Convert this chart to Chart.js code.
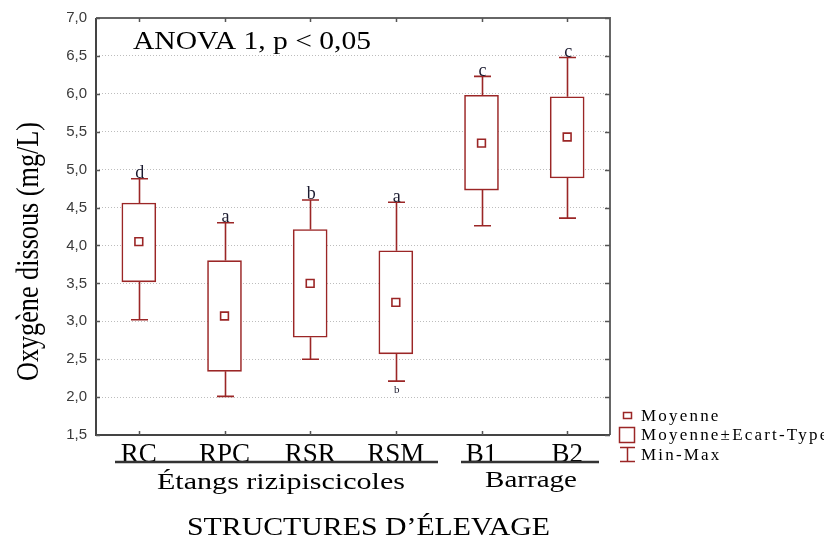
<!DOCTYPE html>
<html><head><meta charset="utf-8">
<script src="https://cdn.jsdelivr.net/npm/chart.js@4.4.1/dist/chart.umd.min.js"></script>
<style>html,body{margin:0;padding:0;background:#fff;}#wrap{width:824px;height:541px;}</style>
</head><body><div id="wrap"><canvas id="c" width="824" height="541"></canvas></div>
<script>
const categories = ['RC', 'RPC', 'RSR', 'RSM', 'B1', 'B2'];
const means  = [4.05, 3.07, 3.50, 3.25, 5.35, 5.43];
const sdLow  = [3.52, 2.34, 2.79, 2.57, 4.73, 4.89];
const sdHigh = [4.56, 3.80, 4.21, 3.93, 5.98, 5.96];
const mins   = [3.02, 2.01, 2.50, 2.21, 4.26, 4.36];
const maxs   = [4.88, 4.30, 4.60, 4.57, 6.23, 6.48];
const letters = ['d', 'a', 'b', 'a', 'c', 'c'];
const lowLetters = ['', '', '', 'b', '', ''];
const groups = ['Étangs rizipiscicoles', 'Barrage'];
const legendLabels = ['Moyenne', 'Moyenne±Ecart-Type', 'Min-Max'];
const yTitle = 'Oxygène dissous (mg/L)';
const xTitle = 'STRUCTURES D’ÉLEVAGE';
const annotation = 'ANOVA 1, p < 0,05';
const yMin = 1.5, yMax = 7.0, yStep = 0.5;

const RED = '#9b2626';
const SERIF = '"Liberation Serif", "Times New Roman", serif';

function fitText(ctx, txt, x, y, px, width, opts) {
  opts = opts || {};
  ctx.save();
  ctx.font = px + 'px ' + SERIF;
  ctx.fillStyle = opts.color || '#000';
  ctx.textBaseline = 'alphabetic';
  ctx.textAlign = 'left';
  const w = ctx.measureText(txt).width;
  const s = width / w;
  ctx.translate(x, y);
  if (opts.rotate) ctx.rotate(opts.rotate);
  ctx.scale(s, opts.cross || 1);
  ctx.fillText(txt, 0, 0);
  ctx.restore();
}

const custom = {
  id: 'custom',
  beforeDatasetsDraw(chart) {
    const {ctx, scales: {x, y}} = chart;
    ctx.save();
    ctx.strokeStyle = RED;
    ctx.lineWidth = 1.6;
    categories.forEach((c, i) => {
      const px = Math.round(x.getPixelForValue(i)) + 0.5;
      const yMx = y.getPixelForValue(maxs[i]), yHi = y.getPixelForValue(sdHigh[i]);
      const yLo = y.getPixelForValue(sdLow[i]), yMn = y.getPixelForValue(mins[i]);
      ctx.beginPath();
      ctx.moveTo(px, yMx); ctx.lineTo(px, yHi);
      ctx.moveTo(px, yLo); ctx.lineTo(px, yMn);
      ctx.moveTo(px - 8.5, yMx); ctx.lineTo(px + 8.5, yMx);
      ctx.moveTo(px - 8.5, yMn); ctx.lineTo(px + 8.5, yMn);
      ctx.stroke();
    });
    ctx.restore();
  },
  afterDraw(chart) {
    const {ctx, chartArea: a, scales: {x, y}} = chart;
    ctx.save();
    // frame
    ctx.lineWidth = 2;
    ctx.strokeStyle = '#666';
    ctx.beginPath();
    ctx.moveTo(a.left, a.top); ctx.lineTo(a.right, a.top); ctx.lineTo(a.right, a.bottom);
    ctx.stroke();
    ctx.strokeStyle = '#444';
    ctx.beginPath();
    ctx.moveTo(a.left, a.top); ctx.lineTo(a.left, a.bottom); ctx.lineTo(a.right, a.bottom);
    ctx.stroke();
    // inward ticks
    ctx.strokeStyle = '#555';
    ctx.lineWidth = 1.5;
    ctx.beginPath();
    for (let v = yMin; v <= yMax + 1e-9; v += yStep) {
      const py = Math.round(y.getPixelForValue(v)) + 0.5;
      ctx.moveTo(a.left, py); ctx.lineTo(a.left + 4, py);
      ctx.moveTo(a.right, py); ctx.lineTo(a.right - 5, py);
    }
    categories.forEach((c, i) => {
      const px = Math.round(x.getPixelForValue(i)) + 0.5;
      ctx.moveTo(px, a.top); ctx.lineTo(px, a.top + 4);
      ctx.moveTo(px, a.bottom); ctx.lineTo(px, a.bottom - 4);
    });
    ctx.stroke();
    // significance letters
    ctx.fillStyle = '#1b1b30';
    ctx.textAlign = 'center';
    ctx.textBaseline = 'alphabetic';
    ctx.font = '18px ' + SERIF;
    categories.forEach((c, i) => {
      const px = x.getPixelForValue(i) + 1;
      ctx.fillText(letters[i], px, y.getPixelForValue(maxs[i]) - 0.5);
      if (lowLetters[i]) {
        ctx.font = '11px ' + SERIF;
        ctx.fillText(lowLetters[i], px, y.getPixelForValue(mins[i]) + 12);
        ctx.font = '18px ' + SERIF;
      }
    });
    // annotation
    fitText(ctx, annotation, 133, 49, 26, 238);
    // y title (rotated)
    fitText(ctx, yTitle, 38, 381, 26, 259, {rotate: -Math.PI / 2, cross: 1.2});
    // group underlines
    ctx.strokeStyle = '#333';
    ctx.lineWidth = 2.5;
    ctx.beginPath();
    ctx.moveTo(115, 462); ctx.lineTo(438, 462);
    ctx.moveTo(461, 462); ctx.lineTo(599, 462);
    ctx.stroke();
    fitText(ctx, groups[0], 157, 489, 23, 248);
    fitText(ctx, groups[1], 485, 487, 23, 92);
    fitText(ctx, xTitle, 187, 535, 25, 363);
    // legend
    ctx.strokeStyle = RED;
    ctx.lineWidth = 1.5;
    ctx.strokeRect(623.5, 412.5, 8, 6);
    ctx.strokeRect(619.5, 427.5, 15, 15);
    ctx.beginPath();
    ctx.moveTo(627.5, 447); ctx.lineTo(627.5, 461);
    ctx.moveTo(620, 447.5); ctx.lineTo(635, 447.5);
    ctx.moveTo(620, 461.5); ctx.lineTo(635, 461.5);
    ctx.stroke();
    ctx.fillStyle = '#000';
    ctx.textAlign = 'left';
    ctx.font = '17px ' + SERIF;
    ctx.letterSpacing = '2.2px';
    ctx.fillText(legendLabels[0], 641, 421);
    ctx.fillText(legendLabels[1], 641, 440);
    ctx.fillText(legendLabels[2], 641, 460);
    ctx.letterSpacing = '0px';
    ctx.restore();
  }
};

new Chart(document.getElementById('c'), {
  type: 'bar',
  data: {
    labels: categories,
    datasets: [
      {
        type: 'bar', label: legendLabels[1],
        data: categories.map((c, i) => [sdLow[i], sdHigh[i]]),
        backgroundColor: '#ffffff', borderColor: RED, borderWidth: 1.6,
        borderSkipped: false, barThickness: 34, order: 2
      },
      {
        type: 'line', label: legendLabels[0], data: means, showLine: false,
        pointStyle: 'rect', pointRadius: 5.5, pointBorderColor: RED,
        pointBackgroundColor: '#ffffff', pointBorderWidth: 1.6, order: 1
      }
    ]
  },
  options: {
    responsive: false, animation: false, devicePixelRatio: 1,
    layout: {padding: {left: 0, right: 214, top: 17, bottom: 0}},
    plugins: {legend: {display: false}, tooltip: {enabled: false}},
    scales: {
      x: {
        grid: {display: false, drawTicks: false},
        border: {display: false},
        ticks: {font: {family: SERIF, size: 27}, color: '#000', padding: 4},
        afterFit(s) { s.height = 106; }
      },
      y: {
        min: yMin, max: yMax,
        grid: {color: '#bdbdbd', lineWidth: 1, drawTicks: false},
        border: {display: false, dash: [1, 2]},
        ticks: {
          stepSize: yStep,
          callback: v => v.toFixed(1).replace('.', ','),
          font: {family: '"Liberation Sans", Arial, sans-serif', size: 15},
          color: '#3a3a3a', padding: 9
        },
        afterFit(s) { s.width = 96; }
      }
    }
  },
  plugins: [custom]
});
</script></body></html>
